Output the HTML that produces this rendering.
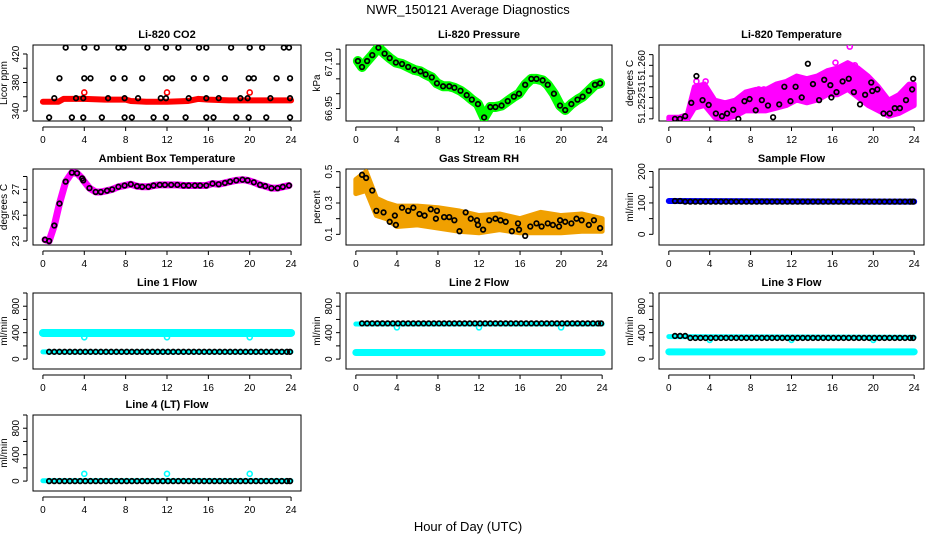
<!DOCTYPE html>
<html><head><meta charset="utf-8">
<style>
html,body{margin:0;padding:0;background:#fff;}
svg{display:block;font-family:"Liberation Sans",Arial,sans-serif;}
.t{font-weight:bold;font-size:11px;}
.k{font-size:10px;}
</style></head>
<body>
<svg id="c" width="936" height="540" viewBox="0 0 936 540">
<text x="468" y="14" text-anchor="middle" font-size="13">NWR_150121  Average Diagnostics</text>
<text x="468" y="531" text-anchor="middle" font-size="13">Hour of Day (UTC)</text>
</svg>
<script>
// ---------- data ----------
const xTicks=[0,4,8,12,16,20,24];
// CO2
const co2T=[2.2,4,5.2,7.3,7.8,10.1,11.9,13.1,15.1,15.8,18.2,20,21.2,23.3,23.8, 1.6,4,4.6,6.8,7.9,9.6,11.9,12.5,14.6,15.8,17.6,19.9,20.4,22.6,23.9, 1.1,3.2,3.9,6.3,7.9,9.2,11.4,11.9,14.1,15.8,17,19.1,19.8,22,23.9, 0.6,2.8,3.9,5.7,7.9,8.6,10.7,11.9,13.8,15.8,16.5,18.7,19.9,21.6,23.9];
const co2V=[429,429,429,429,429,429,429,429,429,429,429,429,429,429,429, 386,386,386,386,386,386,386,386,386,386,386,386,386,386,386, 358,358,358,358,358,358,358,358,358,358,358,358,358,358,358, 331,331,331,331,331,331,331,331,331,331,331,331,331,331,331];
const co2BandT=[0,1.5,2,4,6,8,8.5,10,12,14,15,16,18,20,22,24];
const co2BandV=[353,353,357,357,356,356,354,353,353,354,357,356,355,355,355,355];
const co2OutT=[4,12,20];
const co2OutV=[366,366,366];
// Pressure
const prT=[0.2,0.6,1.1,1.6,2.2,2.8,3.3,3.9,4.5,5.1,5.7,6.3,6.8,7.4,7.9,8.5,9.1,9.6,10.2,10.8,11.3,11.9,12.5,13.1,13.6,14.2,14.8,15.4,15.9,16.5,17.1,17.6,18.2,18.7,19.3,19.9,20.4,21,21.6,22.1,22.7,23.3,23.8];
const prV=[67.11,67.09,67.11,67.13,67.155,67.135,67.12,67.105,67.1,67.09,67.08,67.075,67.065,67.055,67.035,67.025,67.025,67.02,67.01,66.995,66.98,66.965,66.92,66.955,66.955,66.96,66.975,66.99,67.0,67.03,67.05,67.05,67.045,67.03,67.0,66.96,66.945,66.965,66.98,66.99,67.01,67.03,67.035];
// Li-820 temperature
const ltT=[0.6,1.1,1.6,2.2,2.7,3.3,3.9,4.6,5.2,5.7,6.3,6.8,7.4,7.9,8.5,9.1,9.7,10.2,10.8,11.3,11.9,12.4,13,13.6,14.1,14.7,15.2,15.8,15.9,16.4,17,17.6,18.1,18.7,19.2,19.8,19.9,20.4,21,21.6,22.1,22.6,23.2,23.8,23.9];
const ltV=[51.25,51.25,51.2505,51.253,51.258,51.2535,51.2526,51.251,51.2505,51.251,51.2517,51.25,51.2533,51.2537,51.2516,51.2535,51.2525,51.2503,51.2527,51.256,51.2533,51.256,51.254,51.2603,51.2565,51.2535,51.2573,51.2563,51.254,51.255,51.257,51.2575,51.255,51.2527,51.2545,51.2568,51.2552,51.2555,51.251,51.251,51.252,51.252,51.2535,51.2555,51.2575];
const ltBandT=[0,1,1.8,2.5,3.5,4.5,5.5,6.5,7.5,8.5,9.5,10.5,11.5,12.5,13.5,14.5,15.5,16.5,17.5,18.5,19.5,20.5,21.5,22.5,23.5,24];
const ltBandLo=[51.2498,51.2498,51.2498,51.252,51.2525,51.2502,51.25,51.2505,51.2515,51.2515,51.2515,51.252,51.2525,51.2535,51.253,51.2535,51.2545,51.2545,51.2555,51.254,51.2525,51.2515,51.2505,51.251,51.252,51.2525];
const ltBandHi=[51.2503,51.2503,51.2508,51.256,51.2565,51.2535,51.253,51.2535,51.255,51.2555,51.2555,51.2565,51.257,51.258,51.2575,51.258,51.259,51.2595,51.2605,51.2595,51.258,51.256,51.2535,51.2545,51.2565,51.2565];
const ltOutT=[17.7,16.3,18.2,2.7,3.6,8.8,9.3];
const ltOutV=[51.2635,51.2605,51.26,51.257,51.257,51.2555,51.2555];
// Ambient box temperature
const abT=[0.2,0.6,1.1,1.6,2.2,2.8,3.3,3.8,3.9,4.5,5.1,5.6,6.2,6.7,7.3,7.9,8.5,9.1,9.6,10.2,10.7,11.3,11.8,12.4,13,13.6,14.1,14.7,15.2,15.8,16.4,17,17.6,18.1,18.7,19.3,19.8,20.4,21,21.5,22.1,22.7,23.2,23.8];
const abV=[23.1,23.0,24.2,25.9,27.6,28.3,28.25,27.85,27.7,27.1,26.8,26.8,26.9,27.0,27.2,27.3,27.4,27.25,27.2,27.2,27.3,27.35,27.35,27.35,27.35,27.3,27.3,27.3,27.3,27.3,27.45,27.4,27.5,27.6,27.7,27.75,27.7,27.55,27.35,27.25,27.1,27.1,27.2,27.3];
// Gas stream RH
const rhT=[0.6,1,1.6,2,2.7,3.3,3.8,3.9,4.5,5.1,5.6,6.2,6.7,7.3,7.8,7.9,8.6,9.1,9.6,10.1,10.7,11.2,11.8,11.9,12.4,13,13.6,14.1,14.6,15.2,15.8,15.9,16.5,17,17.6,18.1,18.7,19.2,19.8,19.9,20.4,21,21.5,22,22.7,23.2,23.8];
const rhV=[0.48,0.46,0.38,0.25,0.24,0.18,0.22,0.16,0.27,0.25,0.27,0.23,0.22,0.26,0.2,0.25,0.21,0.21,0.19,0.12,0.24,0.2,0.19,0.16,0.13,0.19,0.2,0.19,0.18,0.12,0.17,0.13,0.09,0.15,0.17,0.15,0.17,0.16,0.15,0.19,0.18,0.17,0.2,0.19,0.16,0.19,0.14];
const rhBandT=[0,1,2,3,4,6,8,10,12,14,16,18,20,22,24];
const rhBandLo=[0.36,0.38,0.22,0.2,0.15,0.16,0.14,0.12,0.11,0.13,0.11,0.11,0.11,0.12,0.12];
const rhBandHi=[0.45,0.5,0.33,0.3,0.28,0.28,0.27,0.25,0.22,0.23,0.2,0.24,0.22,0.23,0.2];
// flows
const flT=[0.6,1.1,1.6,2.1,2.6,3.1,3.6,4.1,4.6,5.1,5.6,6.1,6.6,7.1,7.6,8.1,8.6,9.1,9.6,10.1,10.6,11.1,11.6,12.1,12.6,13.1,13.6,14.1,14.6,15.1,15.6,16.1,16.6,17.1,17.6,18.1,18.6,19.1,19.6,20.1,20.6,21.1,21.6,22.1,22.6,23.1,23.6,23.9];
const sfV=[106,106,104,104,104,104,104,104,104,104,104,104,104,104,104,104,104,104,104,104,104,104,104,104,104,104,104,104,104,104,104,104,104,104,104,104,104,104,104,104,104,104,104,104,104,104,104,104];
const l1V=[110,110,110,110,110,110,110,110,110,110,110,110,110,110,110,110,110,110,110,110,110,110,110,110,110,110,110,110,110,110,110,110,110,110,110,110,110,110,110,110,110,110,110,110,110,110,110,110];
const l2V=[540,540,540,540,540,540,540,540,540,540,540,540,540,540,540,540,540,540,540,540,540,540,540,540,540,540,540,540,540,540,540,540,540,540,540,540,540,540,540,540,540,540,540,540,540,540,540,540];
const l3V=[350,350,350,320,320,320,320,320,320,320,320,320,320,320,320,320,320,320,320,320,320,320,320,320,320,320,320,320,320,320,320,320,320,320,320,320,320,320,320,320,320,320,320,320,320,320,320,320];
const l4V=[0,0,0,0,0,0,0,0,0,0,0,0,0,0,0,0,0,0,0,0,0,0,0,0,0,0,0,0,0,0,0,0,0,0,0,0,0,0,0,0,0,0,0,0,0,0,0,0];
const bandT=[0,24];
const sfBand=[106,104];
const l1BandA=[395,395]; const l1BandB=[110,110];
const l2BandA=[530,530]; const l2BandB=[100,100];
const l3BandA=[340,330]; const l3BandB=[110,110];
const l4BandA=[5,5];
const outT=[4,12,20];
const l1Out=[330,330,330]; const l2Out=[480,480,480]; const l3Out=[290,290,290]; const l4Out=[110,110,110];

// ---------- layout ----------
const X0=[33,346,659], W=[268,266,265], ROWS=[45,169,293,415], H=76;
const svg=document.getElementById('c');
const NS='http://www.w3.org/2000/svg';
function el(tag,attrs,parent){const e=document.createElementNS(NS,tag);for(const k in attrs)e.setAttribute(k,attrs[k]);(parent||svg).appendChild(e);return e;}

function panel(name,title,col,row,ylim,ticks,labels,ylab){
  const g=el('g',{});
  
  
  const sx=t=>X0[col]+(t+0.96)/25.92*W[col];
  const sy=v=>ROWS[row]+H-(v-ylim[0])/(ylim[1]-ylim[0])*H;
  const L=X0[col],T=ROWS[row],B=T+H,R=L+W[col];
  const box=el('rect',{x:L,y:T,width:W[col],height:H,fill:'none',stroke:'#000','stroke-width':1},g);
  
  
  const tt=el('text',{x:(L+R)/2,y:T-7,'text-anchor':'middle',class:'t'},g);tt.textContent=title;
  
  
  const xa=el('g',{},g);
  
  
  el('line',{x1:sx(xTicks[0]),x2:sx(xTicks[xTicks.length-1]),y1:B+6,y2:B+6,stroke:'#000'},xa);
  xTicks.forEach(v=>{el('line',{x1:sx(v),x2:sx(v),y1:B+6,y2:B+10,stroke:'#000'},xa);
    const t=el('text',{x:sx(v),y:B+22,'text-anchor':'middle',class:'k'},xa);t.textContent=v;});
  const ya=el('g',{},g);
  
  
  el('line',{x1:L-6,x2:L-6,y1:sy(ticks[0]),y2:sy(ticks[ticks.length-1]),stroke:'#000'},ya);
  ticks.forEach((v,i)=>{el('line',{x1:L-10,x2:L-6,y1:sy(v),y2:sy(v),stroke:'#000'},ya);
    if(labels[i]!==''){const t=el('text',{x:L-14,y:sy(v),'text-anchor':'middle',class:'k',transform:`rotate(-90 ${L-14} ${sy(v)})`},ya);t.textContent=labels[i];}});
  const yl=el('text',{x:L-26,y:(T+B)/2,'text-anchor':'middle',class:'k',transform:`rotate(-90 ${L-26} ${(T+B)/2})`},g);yl.textContent=ylab;
  
  
  const clip='clip-'+name;
  const cp=el('clipPath',{id:clip},g);el('rect',{x:L,y:T,width:W[col],height:H},cp);
  const layer=el('g',{'clip-path':`url(#${clip})`},g);
  return {
    pts(ts,vs,color,r,sw,nm){const pg=el('g',{},layer);
      
      
      ts.forEach((t,i)=>{const c=el('circle',{cx:sx(t),cy:sy(vs[i]),r:r||2.3,fill:'none',stroke:color,'stroke-width':sw||1.6},pg);
      
      });},
    line(ts,vs,color,w,nm){const p=el('polyline',{points:ts.map((t,i)=>sx(t)+','+sy(vs[i])).join(' '),fill:'none',stroke:color,'stroke-width':w,'stroke-linejoin':'round','stroke-linecap':'round'},layer);
      
      },
    band(ts,lo,hi,color,nm){const ptsA=ts.map((t,i)=>sx(t)+','+sy(hi[i]));const ptsB=ts.map((t,i)=>sx(t)+','+sy(lo[i])).reverse();
      const p=el('polygon',{points:ptsA.concat(ptsB).join(' '),fill:color,stroke:color,'stroke-width':5,'stroke-linejoin':'round'},layer);
      
      }
  };
}

const flowTicks=[0,200,400,600,800,1000], flowLab=['0','','400','','800',''];
const flowLim=[-150,1000];

let p=panel('co2','Li-820 CO2',0,0,[326,432.6],[340,360,380,400,420],['340','','380','','420'],'Licor ppm');
p.line(co2BandT,co2BandV,'#ff0000',6,'red-band');
p.pts(co2OutT,co2OutV,'#ff0000',2.5,1.6,'red-outliers');
p.pts(co2T,co2V,'#000',2.3,1.7,'black-points');

p=panel('pressure','Li-820 Pressure',1,0,[66.908,67.164],[66.95,67.0,67.05,67.1,67.15],['66.95','','','67.10',''],'kPa');
p.line(prT,prV,'#00ff00',10,'green-band');
p.pts(prT,prV,'#000',2.3,1.7,'black-points');

p=panel('li820-temp','Li-820 Temperature',2,0,[51.2496,51.2638],[51.250,51.252,51.254,51.256,51.258,51.260,51.262],['','51.252','','51','','51.260',''],'degrees C');
p.band(ltBandT,ltBandLo,ltBandHi,'#ff00ff','magenta-band');
p.pts(ltOutT,ltOutV,'#ff00ff',2.5,1.6,'magenta-outliers');
p.pts(ltT,ltV,'#000',2.3,1.7,'black-points');

p=panel('ambient-temp','Ambient Box Temperature',0,1,[22.69,28.58],[23,24,25,26,27,28],['23','','25','','27',''],'degrees C');
p.line(abT,abV,'#ff00ff',7,'magenta-band');
p.pts(abT,abV,'#000',2.3,1.7,'black-points');

p=panel('gas-rh','Gas Stream RH',1,1,[0.032,0.517],[0.1,0.2,0.3,0.4,0.5],['0.1','','0.3','','0.5'],'percent');
p.band(rhBandT,rhBandLo,rhBandHi,'#f0a000','orange-band');
p.pts(rhT,rhV,'#000',2.3,1.7,'black-points');

p=panel('sample-flow','Sample Flow',2,1,[-34,208],[0,50,100,150,200],['0','','100','','200'],'ml/min');
p.line(bandT,sfBand,'#0000ff',6,'blue-band');
p.pts(flT,sfV,'#000',2.3,1.7,'black-points');

p=panel('line1-flow','Line 1 Flow',0,2,flowLim,flowTicks,flowLab,'ml/min');
p.line(bandT,l1BandA,'#00ffff',8,'cyan-upper-band');
p.line(bandT,l1BandB,'#00ffff',5,'cyan-lower-band');
p.pts(outT,l1Out,'#00ffff',2.5,1.6,'cyan-outliers');
p.pts(flT,l1V,'#000',2.3,1.7,'black-points');

p=panel('line2-flow','Line 2 Flow',1,2,flowLim,flowTicks,flowLab,'ml/min');
p.line(bandT,l2BandA,'#00ffff',5,'cyan-upper-band');
p.line(bandT,l2BandB,'#00ffff',7,'cyan-lower-band');
p.pts(outT,l2Out,'#00ffff',2.5,1.6,'cyan-outliers');
p.pts(flT,l2V,'#000',2.3,1.7,'black-points');

p=panel('line3-flow','Line 3 Flow',2,2,flowLim,flowTicks,flowLab,'ml/min');
p.line(bandT,l3BandA,'#00ffff',5,'cyan-upper-band');
p.line(bandT,l3BandB,'#00ffff',7,'cyan-lower-band');
p.pts(outT,l3Out,'#00ffff',2.5,1.6,'cyan-outliers');
p.pts(flT,l3V,'#000',2.3,1.7,'black-points');

p=panel('line4-flow','Line 4 (LT) Flow',0,3,flowLim,flowTicks,flowLab,'ml/min');
p.line(bandT,l4BandA,'#00ffff',5,'cyan-band');
p.pts(outT,l4Out,'#00ffff',2.5,1.6,'cyan-outliers');
p.pts(flT,l4V,'#000',2.3,1.7,'black-points');
</script>
</body></html>
